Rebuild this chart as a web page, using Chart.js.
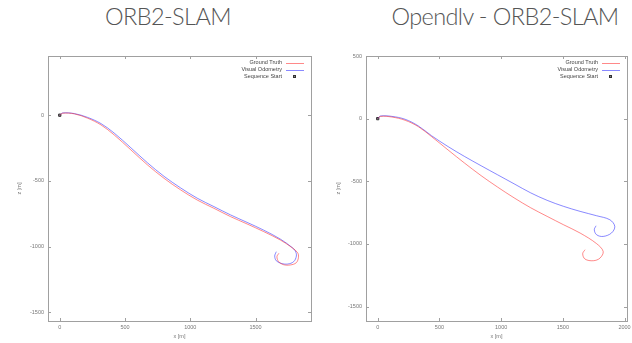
<!DOCTYPE html>
<html>
<head>
<meta charset="utf-8">
<script src="https://cdn.jsdelivr.net/npm/chart.js@4/dist/chart.umd.min.js"></script>
<style>
  body { margin: 0; background: #fff; width: 632px; height: 343px; overflow: hidden; position: relative; }
  .panel { position: absolute; top: 0; width: 316px; height: 343px; }
  .title { position: absolute; top: 2px; font-family: Lato, Roboto, sans-serif; font-weight: 300; font-size: 23.5px;
           letter-spacing: -0.6px; line-height: 28px; color: #555; white-space: nowrap; transform: translateX(-50%); }
</style>
</head>
<body>
<div class="title" style="left:168px">ORB2-SLAM</div>
<div class="title" style="left:505px">Opendlv - ORB2-SLAM</div>
<div class="panel" style="left:0"><canvas id="chartOrb" width="316" height="343"></canvas></div>
<div class="panel" style="left:316px"><canvas id="chartOdlv" width="316" height="343"></canvas></div>
<script>
'use strict';

// ORB2-SLAM (left)
var orbGtX = [0, 23, 112, 214, 316, 417, 545, 672, 799, 926, 1053, 1181, 1308, 1435, 1562, 1690, 1779, 1822, 1829, 1812, 1766, 1715, 1677, 1664, 1679];
var orbGtZ = [0, 15, 10, -23, -74, -150, -264, -378, -480, -568, -645, -708, -771, -827, -885, -949, -1007, -1045, -1081, -1122, -1139, -1137, -1114, -1076, -1050];
var orbVoX = [0, 23, 112, 214, 316, 417, 545, 672, 799, 926, 1053, 1181, 1308, 1435, 1562, 1690, 1779, 1805, 1813, 1792, 1746, 1697, 1659, 1647, 1659];
var orbVoZ = [0, 17, 12, -17, -64, -136, -248, -362, -465, -553, -631, -695, -758, -815, -874, -942, -1005, -1033, -1071, -1114, -1132, -1127, -1107, -1071, -1038];

// Opendlv - ORB2-SLAM (right)
var odlvGtX = [0, 22, 115, 222, 329, 436, 570, 704, 838, 971, 1105, 1239, 1373, 1506, 1640, 1774, 1827, 1801, 1747, 1680, 1661, 1680];
var odlvGtZ = [0, 18, 13, -13, -64, -143, -250, -355, -455, -546, -632, -711, -780, -847, -913, -998, -1060, -1113, -1134, -1121, -1078, -1046];
var odlvVoX = [0, 22, 115, 222, 329, 436, 570, 704, 838, 971, 1105, 1239, 1373, 1506, 1640, 1774, 1881, 1921, 1894, 1827, 1774, 1755, 1769];
var odlvVoZ = [0, 21, 18, -5, -58, -136, -223, -302, -376, -448, -520, -592, -652, -700, -740, -775, -807, -860, -913, -940, -927, -887, -855];

var startX = [0];
var startZ = [0];

var orbXTicks = [0, 500, 1000, 1500];
var orbZTicks = [-1500, -1000, -500, 0];
var odlvXTicks = [0, 500, 1000, 1500, 2000];
var odlvZTicks = [-1500, -1000, -500, 0, 500];

var seriesLabels = ['Ground Truth', 'Visual Odometry', 'Sequence Start'];

function toPoints(xs, zs) {
  return xs.map(function (x, i) { return { x: x, y: zs[i] }; });
}

// gnuplot style: box border + inward mirrored ticks
var gnuFrame = {
  id: 'gnuFrame',
  afterDraw: function (chart) {
    var ctx = chart.ctx;
    var a = chart.chartArea;
    var xs = chart.scales.x;
    var ys = chart.scales.y;
    ctx.save();
    ctx.strokeStyle = '#a0a0a0';
    ctx.lineWidth = 1;
    ctx.strokeRect(Math.round(a.left) + 0.5, Math.round(a.top) + 0.5, Math.round(a.right - a.left), Math.round(a.bottom - a.top));
    ctx.beginPath();
    xs.ticks.forEach(function (t) {
      var p = Math.round(xs.getPixelForValue(t.value)) + 0.5;
      ctx.moveTo(p, a.top); ctx.lineTo(p, a.top + 3);
      ctx.moveTo(p, a.bottom); ctx.lineTo(p, a.bottom - 3);
    });
    ys.ticks.forEach(function (t) {
      var p = Math.round(ys.getPixelForValue(t.value)) + 0.5;
      ctx.moveTo(a.left, p); ctx.lineTo(a.left + 3, p);
      ctx.moveTo(a.right, p); ctx.lineTo(a.right - 3, p);
    });
    ctx.stroke();
    ctx.restore();
  }
};

// gnuplot style key: text right-aligned, sample on the right
var gnuKey = {
  id: 'gnuKey',
  afterDatasetsDraw: function (chart) {
    var ctx = chart.ctx;
    var a = chart.chartArea;
    ctx.save();
    ctx.font = '5.5px "Liberation Sans", Arial, sans-serif';
    ctx.textAlign = 'right';
    ctx.textBaseline = 'middle';
    chart.data.datasets.forEach(function (ds, i) {
      var y = a.top + 6.5 + i * 7;
      ctx.fillStyle = '#444';
      ctx.fillText(ds.label, a.right - 29, y);
      if (ds.showLine === false) {
        ctx.fillStyle = ds.backgroundColor;
        ctx.strokeStyle = ds.borderColor;
        ctx.lineWidth = 1;
        ctx.fillRect(a.right - 18, y - 1.5, 3, 3);
        ctx.strokeRect(a.right - 18 + 0.5, y - 1.5 + 0.5, 2, 2);
      } else {
        ctx.strokeStyle = ds.borderColor;
        ctx.lineWidth = 1;
        ctx.beginPath();
        ctx.moveTo(a.right - 25, Math.round(y) + 0.5);
        ctx.lineTo(a.right - 7, Math.round(y) + 0.5);
        ctx.stroke();
      }
    });
    ctx.restore();
  }
};

function noPad(s) {
  s.paddingLeft = 0;
  s.paddingRight = 0;
  s.paddingTop = 0;
  s.paddingBottom = 0;
}

function makeChart(id, gt, vo, xRange, zRange, xTicks, zTicks, axisWidth, rightPad, zTitlePad) {
  var tickFont = { family: '"Liberation Sans", Arial, sans-serif', size: 5.5 };
  var plain = function (v) { return String(v); };
  return new Chart(document.getElementById(id).getContext('2d'), {
    type: 'scatter',
    data: {
      datasets: [{
        label: seriesLabels[0],
        data: gt,
        showLine: true,
        borderColor: 'rgba(255, 40, 40, 0.55)',
        borderWidth: 1,
        pointRadius: 0,
        tension: 0.35
      }, {
        label: seriesLabels[1],
        data: vo,
        showLine: true,
        borderColor: 'rgba(40, 40, 255, 0.55)',
        borderWidth: 1,
        pointRadius: 0,
        tension: 0.35
      }, {
        label: seriesLabels[2],
        data: toPoints(startX, startZ),
        showLine: false,
        pointStyle: 'rect',
        pointRadius: 1.6,
        borderWidth: 1,
        borderColor: '#333',
        backgroundColor: '#888'
      }]
    },
    options: {
      responsive: false,
      animation: false,
      devicePixelRatio: 1,
      layout: { padding: { top: 56, right: rightPad, left: 0, bottom: 0 } },
      plugins: { legend: { display: false }, tooltip: { enabled: false } },
      scales: {
        x: {
          type: 'linear',
          min: xRange[0],
          max: xRange[1],
          afterBuildTicks: function (s) { s.ticks = xTicks.map(function (v) { return { value: v }; }); },
          afterFit: function (s) { s.height = 22; noPad(s); },
          grid: { display: false, drawTicks: false },
          border: { display: false },
          ticks: { font: tickFont, color: '#777', padding: 3, maxRotation: 0, autoSkip: false, callback: plain },
          title: { display: true, text: 'x [m]', font: tickFont, color: '#777', padding: { top: 0, bottom: 3 } }
        },
        y: {
          type: 'linear',
          min: zRange[0],
          max: zRange[1],
          afterBuildTicks: function (s) { s.ticks = zTicks.map(function (v) { return { value: v }; }); },
          afterFit: function (s) { s.width = axisWidth; noPad(s); },
          grid: { display: false, drawTicks: false },
          border: { display: false },
          ticks: { font: tickFont, color: '#777', padding: 4, autoSkip: false, callback: plain },
          title: { display: true, text: 'z [m]', font: tickFont, color: '#777', padding: { top: zTitlePad, bottom: 0 } }
        }
      }
    },
    plugins: [gnuFrame, gnuKey]
  });
}

makeChart('chartOrb', toPoints(orbGtX, orbGtZ), toPoints(orbVoX, orbVoZ),
  [-90, 1925], [-1565, 450], orbXTicks, orbZTicks, 48, 4, 16);
makeChart('chartOdlv', toPoints(odlvGtX, odlvGtZ), toPoints(odlvVoX, odlvVoZ),
  [-95, 2020], [-1615, 500], odlvXTicks, odlvZTicks, 50, 2, 19);
</script>
</body>
</html>
